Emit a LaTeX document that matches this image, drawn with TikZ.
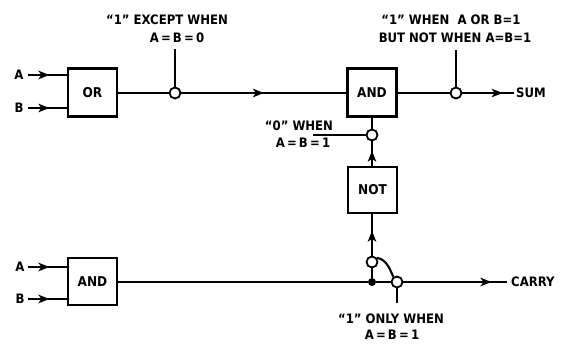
\documentclass[tikz,border=0pt]{standalone}
\usepackage{fontspec}
\newfontfamily\lab{DejaVu Sans Condensed}[BoldFont={DejaVu Sans Condensed Bold}]
\usetikzlibrary{arrows.meta,decorations.markings}
\tikzset{
  gate/.style={draw,line width=2.1pt,minimum width=49pt,minimum height=48pt,inner sep=0pt,font=\lab\bfseries\fontsize{13.5}{15}\selectfont},
  wire/.style={line width=2.1pt},
  tapc/.style={draw,circle,line width=1.8pt,minimum size=11pt,inner sep=0pt},
  jdot/.style={fill,circle,minimum size=8pt,inner sep=0pt},
  txt/.style={font=\lab\bfseries\fontsize{13}{15}\selectfont,inner sep=0pt},
  midarrow/.style={decoration={markings,mark=at position #1 with {\arrow{Stealth[length=11pt,width=8.5pt,inset=3pt]}}},postaction=decorate},
  midarrow/.default=0.5
}
\begin{document}
\begin{tikzpicture}[x=1pt,y=-1pt]
\useasboundingbox (0,0) rectangle (568,344);
% gates
\node[gate] (org) at (92.5,92.5) {OR};
\node[gate] (andt) at (372,92.5) {AND};
\node[gate,minimum height=46pt] (notg) at (372.5,190) {NOT};
\node[gate,minimum height=47pt] (andb) at (92.5,281.5) {AND};
% inputs
\node[txt] (la1) at (19,75) {A};
\node[txt] (lb1) at (19,108) {B};
\node[txt] (la2) at (20,267) {A};
\node[txt] (lb2) at (20,299) {B};
\coordinate (a1) at (28,75);
\coordinate (b1) at (28,108);
\coordinate (a2) at (28,267);
\coordinate (b2) at (28,299);
\draw[wire,midarrow=0.55] (a1) -- (a1 -| org.west);
\draw[wire,midarrow=0.55] (b1) -- (b1 -| org.west);
\draw[wire,midarrow=0.55] (a2) -- (a2 -| andb.west);
\draw[wire,midarrow=0.55] (b2) -- (b2 -| andb.west);
% taps
\node[tapc] (c1) at (175,93) {};
\node[tapc] (c2) at (456,93) {};
\node[tapc] (c3) at (372,135) {};
\node[tapc] (c4) at (372,262) {};
\node[jdot] (d1) at (372,282) {};
\node[tapc] (c5) at (397,282) {};
% sum path
\draw[wire] (org.east |- c1) -- (c1);
\draw[wire,midarrow] (c1) -- (c1 -| andt.west);
\draw[wire] (andt.east |- c2) -- (c2);
\coordinate (sumend) at (514,93);
\draw[wire,midarrow=0.78] (c2) -- (sumend);
\node[txt,anchor=west] (sum) at (516,93) {SUM};
% vertical chain
\draw[wire] (andt.south -| c3) -- (c3);
\draw[wire,midarrow=0.62] (c3 |- notg.north) -- (c3);
\draw[wire,midarrow=0.6] (c4) -- (c4 |- notg.south);
\draw[wire] (c4) -- (d1);
% carry path
\coordinate (carryend) at (507,282);
\draw[wire] (andb.east |- d1) -- (d1) -- (c5);
\draw[wire,midarrow=0.85] (c5) -- (carryend);
\node[txt,anchor=west] (carry) at (511,282) {CARRY};
\draw[wire] (c4.40) to[out=-10,in=115] (c5.125);
% label leads
\coordinate (t1) at (175,49);
\coordinate (t2) at (456,50);
\coordinate (t3) at (313,135);
\coordinate (t5) at (397,303);
\draw[wire] (t1) -- (c1);
\draw[wire] (t2) -- (c2);
\draw[wire] (t3) -- (c3);
\draw[wire] (c5) -- (t5);
% labels
\node[txt] (l1a) at (167,20) {“1” EXCEPT WHEN};
\node[txt] (l1b) at (177,38) {A\,=\,B\,=\,0};
\node[txt] (l2a) at (451,20) {“1” WHEN \ A OR B=1};
\node[txt] (l2b) at (455,38) {BUT NOT WHEN A=B=1};
\node[txt] (l3a) at (299,126) {“0” WHEN};
\node[txt] (l3b) at (303,143) {A\,=\,B\,=\,1};
\node[txt] (l5a) at (391,319) {“1” ONLY WHEN};
\node[txt] (l5b) at (392,335) {A\,=\,B\,=\,1};
\end{tikzpicture}
\end{document}
